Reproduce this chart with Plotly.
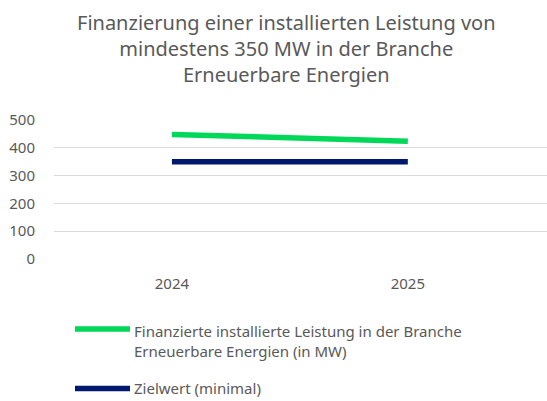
import plotly.graph_objects as go

years = ["2024", "2025"]
leistung = [448, 424]
zielwert = [350, 350]
y_ticks = [0, 100, 200, 300, 400, 500]

series_names = ["Finanzierte installierte Leistung in der Branche<br>Erneuerbare Energien (in MW)",
                "Zielwert (minimal)"]
colors = ["#00D85A", "#00196E"]

W, H = 547, 401
FONT = "Noto Sans"
GREY = "#595959"

fig = go.Figure()
fig.add_trace(go.Scatter(x=years, y=leistung, mode="lines",
                         line=dict(color=colors[0], width=5.5), showlegend=False))
fig.add_trace(go.Scatter(x=years, y=zielwert, mode="lines",
                         line=dict(color=colors[1], width=5.5), showlegend=False))

# custom legend
legend_y = [330, 390]
for i, (name, c) in enumerate(zip(series_names, colors)):
    ly = legend_y[i]
    fig.add_shape(type="line", xref="paper", yref="paper",
                  x0=(75 - 54) / (W - 54), x1=(130 - 54) / (W - 54),
                  y0=(259.5 - ly) / 140 , y1=(259.5 - ly) / 140,
                  line=dict(color=c, width=5.5))
    fig.add_annotation(xref="paper", yref="paper",
                       x=(132 - 54) / (W - 54),
                       y=(259.5 - (ly - 1)) / 140 if i == 1 else (259.5 - (ly - 10)) / 140,
                       text=name, showarrow=False, xanchor="left",
                       yanchor="middle" if i == 1 else "top",
                       align="left",
                       font=dict(family=FONT, size=15, color=GREY))

# title as annotation
fig.add_annotation(xref="paper", yref="paper",
                   x=(286 - 54) / (W - 54), y=(259.5 - 6) / 140,
                   xanchor="center", yanchor="top", showarrow=False, align="center",
                   text="Finanzierung einer installierten Leistung von<br>mindestens 350 MW in der Branche<br>Erneuerbare Energien",
                   font=dict(family=FONT, size=20, color=GREY))

fig.update_layout(
    width=W, height=H,
    margin=dict(l=54, r=0, t=119.5, b=H - 259.5),
    paper_bgcolor="white", plot_bgcolor="white",
    font=dict(family=FONT, size=14, color=GREY),
    xaxis=dict(type="category", range=[-0.5, 1.59], showgrid=False,
               showline=False, zeroline=False, ticklabelstandoff=14,
               tickfont=dict(size=15, color=GREY)),
    yaxis=dict(range=[0, 500], tickvals=y_ticks, showgrid=True,
               gridcolor="#D9D9D9", gridwidth=1.3, zeroline=False, showline=False,
               ticklabelstandoff=18, tickfont=dict(size=15, color=GREY)),
)

fig.write_html("out.html", config={"displayModeBar": False},
               post_script="document.body.style.margin='0';document.body.style.overflow='hidden';")
